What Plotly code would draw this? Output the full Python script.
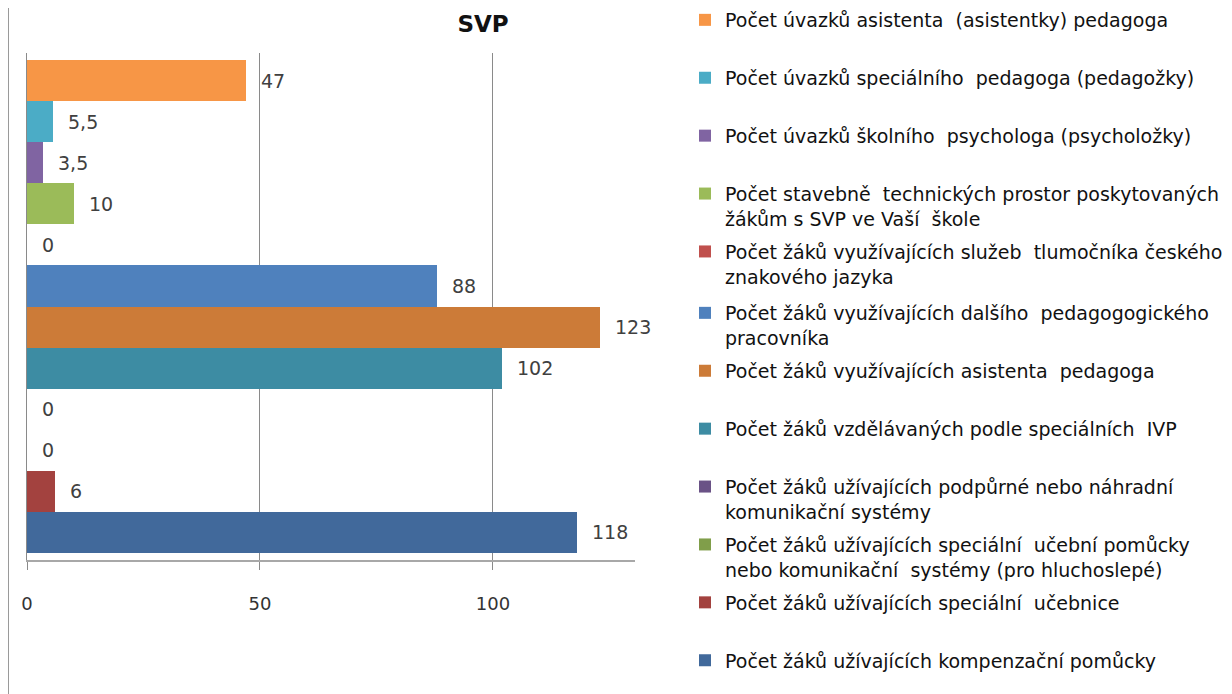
import plotly.graph_objects as go

categories = [
    "Počet úvazků asistenta  (asistentky) pedagoga",
    "Počet úvazků speciálního  pedagoga (pedagožky)",
    "Počet úvazků školního  psychologa (psycholožky)",
    "Počet stavebně  technických prostor poskytovaných<br>žákům s SVP ve Vaší  škole",
    "Počet žáků využívajících služeb  tlumočníka českého<br>znakového jazyka",
    "Počet žáků využívajících dalšího  pedagogogického<br>pracovníka",
    "Počet žáků využívajících asistenta  pedagoga",
    "Počet žáků vzdělávaných podle speciálních  IVP",
    "Počet žáků užívajících podpůrné nebo náhradní<br>komunikační systémy",
    "Počet žáků užívajících speciální  učební pomůcky<br>nebo komunikační  systémy (pro hluchoslepé)",
    "Počet žáků užívajících speciální  učebnice",
    "Počet žáků užívajících kompenzační pomůcky",
]
values = [47, 5.5, 3.5, 10, 0, 88, 123, 102, 0, 0, 6, 118]
colors = ["#F79646", "#4BACC6", "#8064A2", "#9BBB59", "#C0504D", "#4F81BD",
          "#CC7B38", "#3D8CA3", "#6A5286", "#809E4A", "#A3423F", "#41699B"]
x_ticks = [0, 50, 100]


def fmt(v):
    s = ("%g" % v)
    return s.replace(".", ",")


# plot area in figure pixels
L, T, W, H = 19, 45, 608, 507
FW, FH = 1232, 694
SPLIT = 5  # legend entries in the first legend box

fig = go.Figure()
ids = ["c%d" % i for i in range(len(categories))]
n = len(categories)
for i, (cat, v, c) in enumerate(zip(categories, values, colors)):
    name = cat if ("<br>" in cat or i == n - 1) else cat + "<br> "
    fig.add_trace(go.Bar(
        x=[v], y=[ids[i]], orientation="h", name=name,
        marker=dict(color=c, line=dict(width=0)),
        legendgroup="g%d" % i, hoverinfo="skip",
        legend="legend" if i < SPLIT else "legend2",
    ))
    fig.add_annotation(x=v, y=ids[i], text=fmt(v), showarrow=False,
                       xanchor="left", yanchor="middle", xshift=13,
                       font=dict(family="DejaVu Sans", size=19, color="#404040"))

leg_common = dict(
    xanchor="left", yanchor="top",
    traceorder="grouped", tracegroupgap=5.5, valign="top",
    font=dict(family="DejaVu Sans", size=19, color="#111111"),
    bgcolor="rgba(0,0,0,0)", itemclick=False, itemdoubleclick=False,
)


def py(fig_y):
    return 1 - (fig_y - T) / H


fig.update_layout(
    width=FW, height=FH,
    margin=dict(l=L, r=FW - L - W, t=T, b=FH - T - H, autoexpand=False),
    paper_bgcolor="white", plot_bgcolor="white",
    barmode="relative", bargap=0,
    showlegend=True,
    legend=dict(x=(677 - L) / W, y=py(-7), **leg_common),
    legend2=dict(x=(677 - L) / W, y=py(286), **leg_common),
    title=dict(text="SVP", x=475 / FW, y=1 - 16 / FH, xanchor="center", yanchor="middle",
               xref="container", yref="container",
               font=dict(family="DejaVu Sans", size=23, color="#111111", weight="bold")),
    xaxis=dict(
        range=[0, 130.5], tickvals=x_ticks, ticktext=[str(t) for t in x_ticks],
        showgrid=True, gridcolor="#8A8A8A", gridwidth=1,
        zeroline=False, showline=True, linecolor="#A8A8A8", linewidth=2,
        ticks="outside", ticklen=8, tickcolor="#8A8A8A",
        tickfont=dict(family="DejaVu Sans", size=18, color="#333333"),
        ticklabelstandoff=18, fixedrange=True,
    ),
    yaxis=dict(
        type="category", categoryorder="array", categoryarray=ids,
        range=[n - 1 + 0.67, -0.67],
        showticklabels=False, showgrid=False, zeroline=False,
        showline=True, linecolor="#8A8A8A", linewidth=1, ticks="", fixedrange=True,
    ),
    shapes=[dict(type="line", xref="paper", yref="paper",
                 x0=(0.5 - L) / W, x1=(0.5 - L) / W, y0=-(FH - T - H) / H, y1=1 + T / H,
                 line=dict(color="#9A9A9A", width=1))],
)

fig.write_html("out.html")
